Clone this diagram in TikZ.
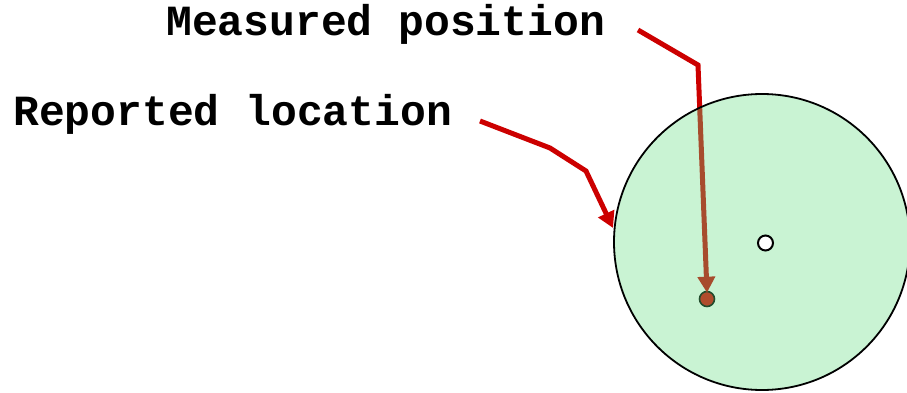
\documentclass[tikz,border=0pt]{standalone}
\usepackage{fontspec}
\setmonofont{Liberation Mono}
\usetikzlibrary{arrows.meta}
\definecolor{arrowred}{RGB}{204,0,0}
\definecolor{zonegreen}{RGB}{100,220,130}
\tikzset{
  lbl/.style={font=\ttfamily\bfseries\fontsize{43}{43}\selectfont, inner sep=0pt, anchor=base west},
  pointer/.style={draw=arrowred, line width=5pt, line join=miter, -{Triangle[width=17pt,length=16pt]}},
  dot/.style={circle, draw=black, line width=1.6pt, minimum size=15pt, inner sep=0pt}
}
\begin{document}
\begin{tikzpicture}[x=1pt,y=-1pt]
\useasboundingbox (0,0) rectangle (907,393);
\clip (0,0) rectangle (907,393);
\node[lbl] (meas) at (166,36) {Measured position};
\node[lbl] (rep) at (13,126) {Reported location};
\coordinate (m0) at (638,30);
\coordinate (m1) at (698,65);
\coordinate (r0) at (480,121);
\coordinate (r1) at (550,148);
\coordinate (r2) at (586,171);
\node[dot, fill=red!85!black] (mdot) at (707,299) {};
\draw[pointer] (m0) -- (m1) -- ([yshift=-2pt]mdot.north);
\draw[pointer] (r0) -- (r1) -- (r2) -- (613,228);
\node[circle, draw=black, line width=1.8pt, fill=zonegreen, fill opacity=0.35, minimum size=296pt, inner sep=0pt] (zone) at (762,242) {};
\node[dot, fill=white, line width=2pt] (rdot) at (765.5,243) {};
\end{tikzpicture}
\end{document}
